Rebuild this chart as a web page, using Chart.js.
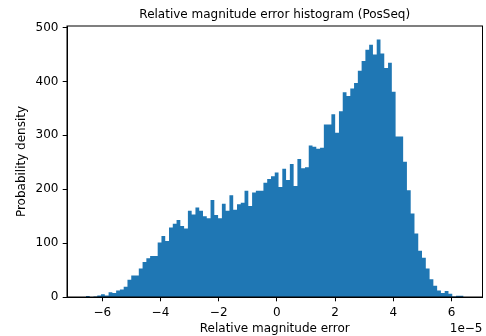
<!DOCTYPE html>
<html><head><meta charset="utf-8">
<script src="https://cdn.jsdelivr.net/npm/chart.js@4/dist/chart.umd.min.js"></script>
<style>html,body{margin:0;padding:0;background:#fff}#wrap{width:486px;height:336px}</style>
</head><body><div id="wrap"><canvas id="c" width="486" height="336"></canvas></div>
<script>
// Histogram bins (x in units of 1e-5)
const binStart = -6.56;
const binWidth = 0.1297;
const density = [
  2, 0, 1, 3, 5, 3, 9, 7.5, 12, 14,
  19, 32, 40, 40, 53, 65, 72, 76, 76, 101,
  113, 104, 129, 136, 143, 132, 127, 160, 153, 166,
  160, 150, 146, 180, 152, 146, 173, 160, 189, 162,
  172, 175, 197, 169, 194, 197, 197, 212, 219, 224,
  231, 204, 238, 217, 247, 206, 256, 239, 241, 281,
  279, 275, 277, 320, 320, 339, 305, 345, 380, 373,
  387, 397, 420, 438, 459, 468, 450, 478, 452, 425,
  435, 381, 298, 298, 251, 198, 155, 118, 86, 73,
  53, 33, 21, 12, 7.5, 11, 6, 1, 2.5, 2.5
];
const xTickValues = [-6, -4, -2, 0, 2, 4, 6];
const yTickValues = [0, 100, 200, 300, 400, 500];
const titleText = 'Relative magnitude error histogram (PosSeq)';
const xLabel = 'Relative magnitude error';
const yLabel = 'Probability density';
const xOffsetText = '1e\u22125';

// histogram outline: each bin's left edge carries its density; the closing right edge drops to 0
const points = density.map((v, i) => ({ x: binStart + i * binWidth, y: v }));
points.push({ x: binStart + density.length * binWidth, y: 0 });
const fmt = v => (v < 0 ? '\u2212' + Math.abs(v) : String(v));
const FONT = '"DejaVu Sans", "Liberation Sans", sans-serif';
const FS = 12;

const framePlugin = {
  id: 'frame',
  afterDraw(chart) {
    const { ctx, chartArea: a } = chart;
    ctx.save();
    ctx.strokeStyle = '#000';
    ctx.lineWidth = 1;
    ctx.strokeRect(a.left, a.top, a.right - a.left, a.bottom - a.top);
    ctx.fillStyle = '#000';
    ctx.font = FS + 'px ' + FONT;
    ctx.textAlign = 'center';
    ctx.textBaseline = 'alphabetic';
    ctx.fillText(titleText, (a.left + a.right) / 2, 18);
    ctx.fillText(xLabel, (a.left + a.right) / 2, 332);
    ctx.textAlign = 'right';
    ctx.fillText(xOffsetText, a.right, 332);
    ctx.translate(22, (a.top + a.bottom) / 2);
    ctx.rotate(-Math.PI / 2);
    ctx.textAlign = 'center';
    ctx.textBaseline = 'middle';
    ctx.fillText(yLabel, 0, 0);
    ctx.restore();
  }
};

new Chart(document.getElementById('c'), {
  type: 'line',
  data: {
    datasets: [{
      data: points,
      stepped: 'before',
      fill: 'origin',
      backgroundColor: '#1f77b4',
      borderColor: '#1f77b4',
      borderWidth: 0,
      pointRadius: 0,
      pointHoverRadius: 0,
      tension: 0
    }]
  },
  options: {
    responsive: false,
    animation: false,
    devicePixelRatio: 1,
    layout: { padding: { top: 26, right: 3.5, left: 0, bottom: 0 } },
    plugins: { legend: { display: false }, tooltip: { enabled: false }, title: { display: false } },
    scales: {
      x: {
        type: 'linear',
        min: -7.21,
        max: 7.06,
        offset: false,
        grid: { display: true, offset: false, drawOnChartArea: false, drawTicks: true, tickLength: 4.3, tickWidth: 1, tickColor: '#000' },
        border: { display: true, color: '#000', width: 1 },
        ticks: { font: { family: FONT, size: FS }, color: '#000', padding: 4, maxRotation: 0, autoSkip: false, callback: v => fmt(v) },
        afterBuildTicks: s => { s.ticks = xTickValues.map(v => ({ value: v })); },
        afterFit: s => { s.height = 39; }
      },
      y: {
        type: 'linear',
        min: 0,
        max: 503,
        grid: { display: true, offset: false, drawOnChartArea: false, drawTicks: true, tickLength: 4.3, tickWidth: 1, tickColor: '#000' },
        border: { display: true, color: '#000', width: 1 },
        ticks: { font: { family: FONT, size: FS }, color: '#000', padding: 4.3, autoSkip: false, callback: v => fmt(v) },
        afterBuildTicks: s => { s.ticks = yTickValues.map(v => ({ value: v })); },
        afterFit: s => { s.width = 67; }
      }
    }
  },
  plugins: [framePlugin]
});
</script>
</body></html>
